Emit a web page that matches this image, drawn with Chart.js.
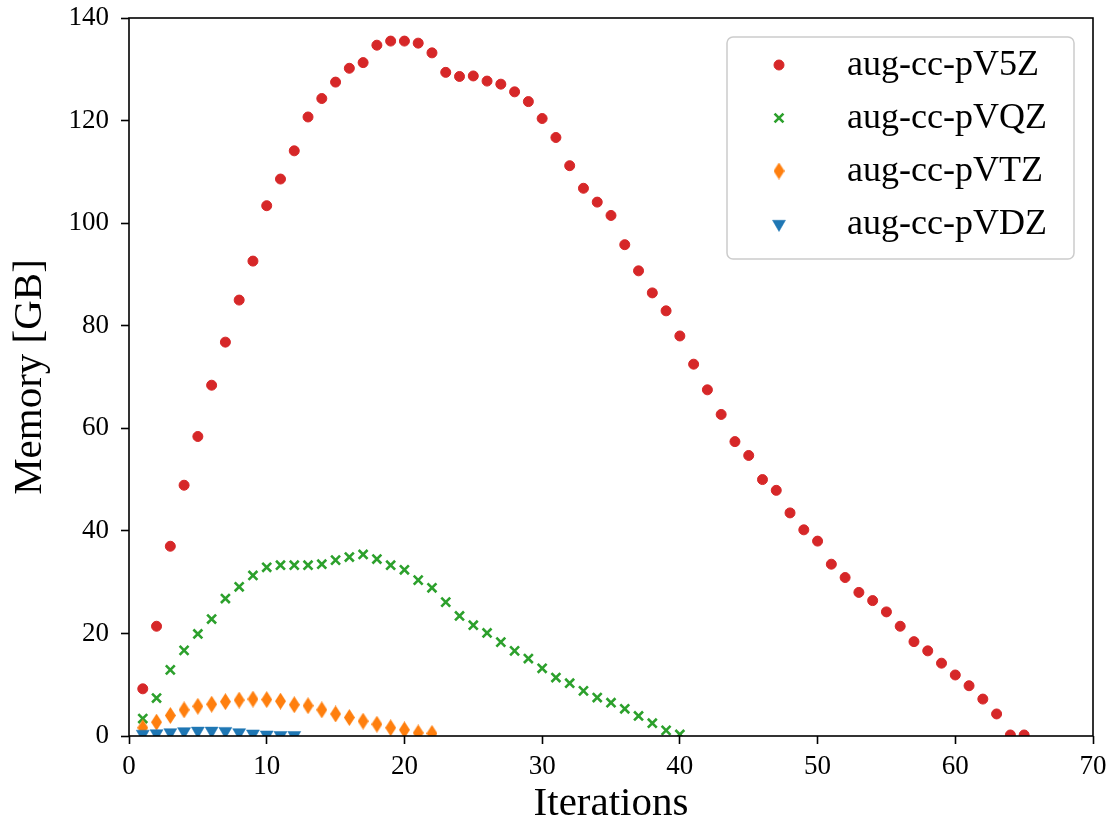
<!DOCTYPE html>
<html>
<head>
<meta charset="utf-8">
<title>Memory per iteration</title>
<script src="https://cdn.jsdelivr.net/npm/chart.js@4.4.1/dist/chart.umd.min.js"></script>
<style>
  html, body { margin: 0; padding: 0; background: #fff; }
  #wrap { width: 1109px; height: 819px; }
</style>
</head>
<body>
<div id="wrap"><canvas id="graph" width="1109" height="819"></canvas></div>
<script>
// iteration numbers (x) - each series uses the first N of them
const iterations = [1, 2, 3, 4, 5, 6, 7, 8, 9, 10, 11, 12, 13, 14, 15, 16, 17, 18, 19, 20,
    21, 22, 23, 24, 25, 26, 27, 28, 29, 30, 31, 32, 33, 34, 35, 36, 37, 38, 39, 40,
    41, 42, 43, 44, 45, 46, 47, 48, 49, 50, 51, 52, 53, 54, 55, 56, 57, 58, 59, 60,
    61, 62, 63, 64, 65];

// memory in GB
const pV5Z = [9.2, 21.4, 37.0, 48.9, 58.4, 68.4, 76.8, 85.0, 92.6, 103.4,
    108.6, 114.1, 120.7, 124.3, 127.5, 130.2, 131.3, 134.7, 135.5, 135.5,
    135.1, 133.2, 129.4, 128.6, 128.7, 127.7, 127.1, 125.6, 123.7, 120.4,
    116.7, 111.2, 106.8, 104.1, 101.5, 95.8, 90.7, 86.4, 82.9, 78.0,
    72.5, 67.5, 62.7, 57.4, 54.7, 50.0, 47.9, 43.5, 40.2, 38.0,
    33.5, 30.9, 28.0, 26.4, 24.2, 21.4, 18.4, 16.6, 14.2, 11.9,
    9.8, 7.2, 4.3, 0.2, 0.2];
const pVQZ = [3.4, 7.4, 12.9, 16.7, 19.9, 22.8, 26.8, 29.1, 31.3, 32.9,
    33.3, 33.3, 33.3, 33.5, 34.3, 34.9, 35.4, 34.5, 33.3, 32.4,
    30.4, 28.9, 26.1, 23.4, 21.6, 20.1, 18.3, 16.6, 15.1, 13.2,
    11.4, 10.3, 8.8, 7.5, 6.5, 5.3, 3.9, 2.5, 1.1, 0.3];
const pVTZ = [1.6, 2.7, 4.0, 5.1, 5.8, 6.2, 6.7, 7.0, 7.2, 7.1,
    6.8, 6.1, 5.9, 5.1, 4.3, 3.6, 2.9, 2.3, 1.6, 1.2, 0.6, 0.5];
const pVDZ = [0.4, 0.5, 0.7, 0.9, 1.0, 1.0, 0.95, 0.7, 0.45, 0.25, 0.15, 0.15];

const seriesNames = ['aug-cc-pV5Z', 'aug-cc-pVQZ', 'aug-cc-pVTZ', 'aug-cc-pVDZ'];

const xTicks = [0, 10, 20, 30, 40, 50, 60, 70];
const yTicks = [0, 20, 40, 60, 80, 100, 120, 140];

const serif = '"Liberation Serif", "DejaVu Serif", serif';

function toPoints(values) {
    return values.map((v, i) => ({ x: iterations[i], y: v }));
}

// matplotlib style thin diamond, chart.js has no such point style
function thinDiamond(w, h, color) {
    var c = document.createElement('canvas');
    c.width = w;
    c.height = h;
    var g = c.getContext('2d');
    g.fillStyle = color;
    g.beginPath();
    g.moveTo(w / 2, 0);
    g.lineTo(w, h / 2);
    g.lineTo(w / 2, h);
    g.lineTo(0, h / 2);
    g.closePath();
    g.fill();
    return c;
}

const red = '#d62728', green = '#2ca02c', orange = '#ff7f0e', blue = '#1f77b4';

// box around the plot area (all four spines)
const framePlugin = {
    id: 'frame',
    afterDatasetsDraw(chart) {
        var a = chart.chartArea, ctx = chart.ctx;
        ctx.save();
        ctx.strokeStyle = '#000';
        ctx.lineWidth = 1.6;
        ctx.strokeRect(a.left, a.top, a.right - a.left, a.bottom - a.top);
        ctx.restore();
    }
};

// legend box in the upper right corner, like matplotlib
const boxLegend = {
    id: 'boxLegend',
    afterDraw(chart) {
        var a = chart.chartArea, ctx = chart.ctx;
        var w = 347, h = 222;
        var left = a.right - 19 - w, top = a.top + 19;
        ctx.save();
        ctx.beginPath();
        ctx.roundRect(left, top, w, h, 6);
        ctx.fillStyle = 'rgba(255,255,255,0.85)';
        ctx.fill();
        ctx.lineWidth = 1.5;
        ctx.strokeStyle = '#cccccc';
        ctx.stroke();

        chart.data.datasets.forEach((ds, i) => {
            var y = top + 28 + i * 53;
            var x = left + 52;
            ctx.fillStyle = ds.backgroundColor;
            ctx.strokeStyle = ds.borderColor;
            ctx.lineWidth = ds.pointBorderWidth;
            Chart.helpers.drawPoint(ctx, {
                pointStyle: ds.pointStyle,
                radius: ds.pointRadius,
                rotation: ds.pointRotation || 0,
                borderWidth: ds.pointBorderWidth
            }, x, y);
            ctx.fillStyle = '#000';
            ctx.font = '36px ' + serif;
            ctx.textBaseline = 'middle';
            ctx.textAlign = 'left';
            ctx.fillText(ds.label, left + 120, y + 1);
        });
        ctx.restore();
    }
};

window.addEventListener('load', () => {

    var chart = new Chart('graph', {
        type: 'scatter',
        data: {
            datasets: [{
                label: seriesNames[0],
                data: toPoints(pV5Z),
                pointStyle: 'circle',
                pointRadius: 5,
                pointBorderWidth: 1,
                backgroundColor: red,
                borderColor: red,
                order: 4
            }, {
                label: seriesNames[1],
                data: toPoints(pVQZ),
                pointStyle: 'crossRot',
                pointRadius: 6.3,
                pointBorderWidth: 2.6,
                backgroundColor: green,
                borderColor: green,
                order: 3
            }, {
                label: seriesNames[2],
                data: toPoints(pVTZ),
                pointStyle: thinDiamond(11, 17, orange),
                pointRadius: 8,
                pointBorderWidth: 0,
                backgroundColor: orange,
                borderColor: orange,
                order: 2
            }, {
                label: seriesNames[3],
                data: toPoints(pVDZ),
                pointStyle: 'triangle',
                pointRotation: 180,
                pointRadius: 7.5,
                pointBorderWidth: 0.5,
                backgroundColor: blue,
                borderColor: blue,
                order: 1
            }]
        },
        options: {
            responsive: false,
            animation: false,
            layout: { padding: { top: 18, right: 16, left: 0, bottom: 0 } },
            plugins: {
                legend: { display: false },
                tooltip: { enabled: false }
            },
            scales: {
                x: {
                    type: 'linear',
                    min: 0,
                    max: 70,
                    afterFit: s => {
                        s.height = 83;
                        s.paddingLeft = 0;
                        s.paddingRight = 0;
                    },
                    afterBuildTicks: s => { s.ticks = xTicks.map(v => ({ value: v })); },
                    border: { display: false },
                    grid: {
                        drawOnChartArea: false,
                        drawTicks: true,
                        tickLength: 8,
                        tickWidth: 1.6,
                        tickColor: '#000'
                    },
                    ticks: {
                        color: '#000',
                        padding: 7,
                        font: { family: serif, size: 27 }
                    },
                    title: {
                        display: true,
                        text: 'Iterations',
                        color: '#000',
                        padding: { top: 0, bottom: 0 },
                        font: { family: serif, size: 41, lineHeight: 0.72 }
                    }
                },
                y: {
                    min: 0,
                    max: 140,
                    afterFit: s => {
                        s.width = 129;
                        s.paddingTop = 0;
                        s.paddingBottom = 0;
                    },
                    afterBuildTicks: s => { s.ticks = yTicks.map(v => ({ value: v })); },
                    border: { display: false },
                    grid: {
                        drawOnChartArea: false,
                        drawTicks: true,
                        tickLength: 8,
                        tickWidth: 1.6,
                        tickColor: '#000'
                    },
                    ticks: {
                        color: '#000',
                        padding: 12,
                        font: { family: serif, size: 27 }
                    },
                    title: {
                        display: true,
                        text: 'Memory [GB]',
                        color: '#000',
                        padding: { top: 10, bottom: 0 },
                        font: { family: serif, size: 41, lineHeight: 1 }
                    }
                }
            }
        },
        plugins: [framePlugin, boxLegend]
    });

})
</script>
</body>
</html>
